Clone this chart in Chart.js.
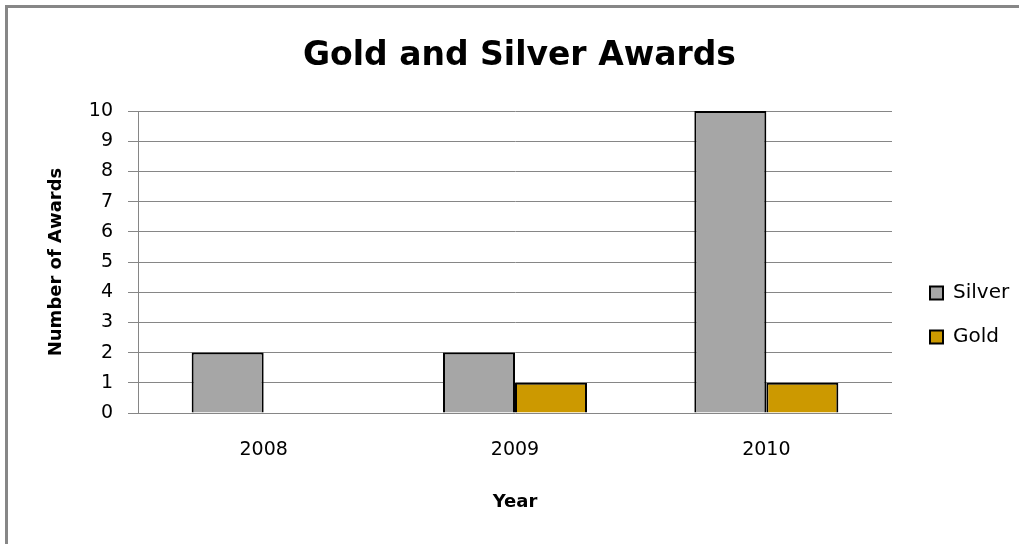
<!DOCTYPE html>
<html><head><meta charset="utf-8">
<script src="https://cdn.jsdelivr.net/npm/chart.js@4"></script>
<style>
html,body{margin:0;padding:0;background:#fff;overflow:hidden;width:1019px;height:544px;}
#frame{position:absolute;left:5px;top:5px;width:1100px;height:600px;border-left:3px solid #878787;border-top:3px solid #878787;}
canvas{position:absolute;left:0;top:0;}
</style></head><body>
<div id="frame"></div>
<canvas id="c" width="1019" height="544"></canvas>
<script>
const categories = ['2008', '2009', '2010'];
const seriesNames = ['Silver', 'Gold'];
const silverValues = [2, 2, 10];
const goldValues = [0, 1, 1];
const yMin = 0, yMax = 10, yStep = 1;
const chartTitle = 'Gold and Silver Awards';
const xTitle = 'Year';
const yTitle = 'Number of Awards';

Chart.defaults.font.family = "'DejaVu Sans', sans-serif";
Chart.defaults.color = '#000';

new Chart(document.getElementById('c'), {
  type: 'bar',
  data: {
    labels: categories,
    datasets: [
      { label: seriesNames[0], data: silverValues, backgroundColor: '#A6A6A6', borderColor: '#000', borderWidth: 2 },
      { label: seriesNames[1], data: goldValues, backgroundColor: '#CC9900', borderColor: '#000', borderWidth: 2 }
    ]
  },
  options: {
    responsive: false,
    animation: false,
    layout: { padding: { left: 20, right: 0, top: 0, bottom: 0 } },
    datasets: { bar: { barPercentage: 1, categoryPercentage: 0.573 } },
    plugins: {
      tooltip: { enabled: false },
      title: {
        display: true, text: chartTitle, color: '#000',
        font: { size: 33, weight: 'bold' },
        padding: { top: 37, bottom: 34.4 }
      },
      legend: {
        position: 'right',
        maxWidth: 113,
        title: { display: true, text: '', font: { size: 10 }, padding: { top: 74, bottom: 0 } },
        labels: { boxWidth: 13, boxHeight: 13, padding: 24, color: '#000', font: { size: 20 } }
      }
    },
    scales: {
      x: {
        grid: { display: false, drawTicks: false },
        border: { display: false },
        ticks: { padding: 26, font: { size: 19 }, color: '#000' },
        title: { display: true, text: xTitle, font: { size: 18, weight: 'bold' }, color: '#000', padding: { top: 0, bottom: 31 } },
        afterFit: s => { s.height = 131; }
      },
      y: {
        min: yMin, max: yMax,
        ticks: { stepSize: yStep, padding: 15, font: { size: 19 }, color: '#000' },
        grid: { color: '#868686', lineWidth: 1, tickLength: 10, drawTicks: true },
        border: { display: true, color: '#868686', width: 1 },
        title: { display: true, text: yTitle, font: { size: 18, weight: 'bold' }, color: '#000', padding: { top: 26, bottom: 0 } },
        afterFit: s => { s.width = 118; }
      },
      yRight: {
        type: 'linear', position: 'right', display: true,
        grid: { display: false, drawTicks: false },
        border: { display: false },
        ticks: { display: false },
        afterFit: s => { s.width = 14; }
      }
    }
  }
});
</script>
</body></html>
